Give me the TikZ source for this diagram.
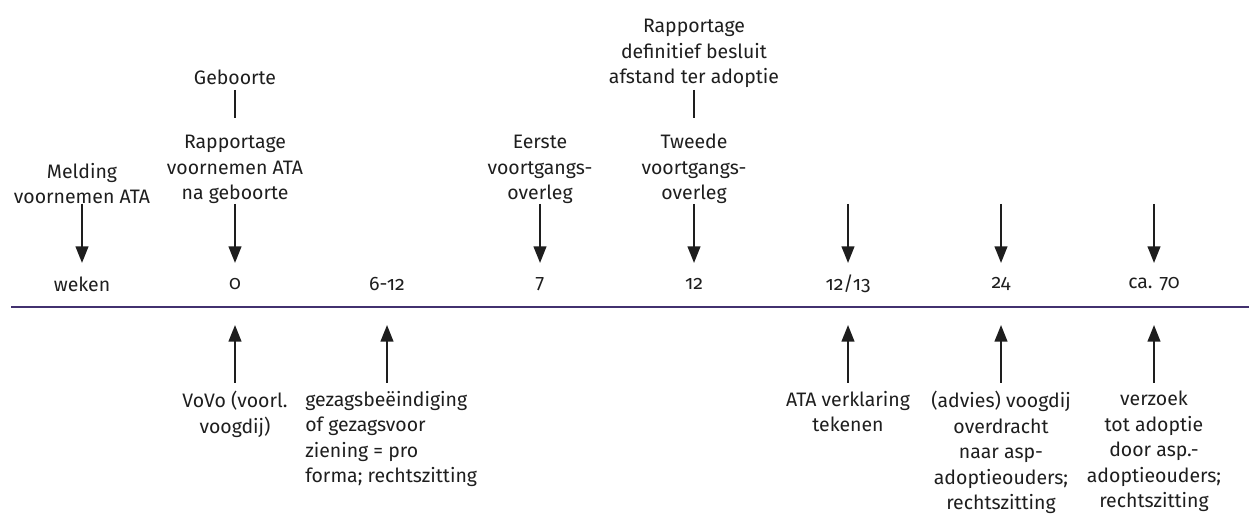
\documentclass[tikz,border=0pt]{standalone}
\usepackage{fontspec}
\setmainfont{Fira Sans}[Numbers=OldStyle]
\usetikzlibrary{arrows.meta}
\definecolor{lijn}{HTML}{42316F}
\definecolor{tekst}{HTML}{1E1E1E}
\tikzset{
  lbl/.style={font=\fontsize{14.6pt}{19.1pt}\selectfont, align=center, inner sep=0pt, text=tekst},
  num/.style={font=\fontsize{14.6pt}{19.1pt}\selectfont, inner sep=0pt, text=tekst},
  pijl/.style={line width=1.6pt, -{Triangle[width=9.5pt,length=12.5pt]}, tekst},
  streep/.style={line width=1.6pt, tekst}
}
\begin{document}
\begin{tikzpicture}[x=0.75pt,y=-0.75pt]
\useasboundingbox (0,0) rectangle (1249,516);
% timeline
\coordinate (L) at (11,307);
\coordinate (R) at (1249,307);
\draw[lijn, line width=2pt] (L) -- (R);
% numbers
\node[num] (n0) at (82,284) {weken};
\node[num] (n1) at (235,284) {0};
\node[num] (n2) at (387,284) {6-12};
\node[num] (n3) at (540,284) {7};
\node[num] (n4) at (694,284) {12};
\node[num] (n5) at (848,284) {12/13};
\node[num] (n6) at (1001,284) {24};
\node[num] (n7) at (1154,284) {ca. 70};
% arrow endpoints top
\foreach \i/\x in {0/82,1/235,3/540,4/694,5/848,6/1001,7/1154}{
  \coordinate (t\i) at (\x,204);
  \coordinate (h\i) at (\x,263);
}
% arrow endpoints bottom
\foreach \i/\x in {1/235,2/387,5/848,6/1001,7/1154}{
  \coordinate (b\i) at (\x,383);
  \coordinate (u\i) at (\x,325);
}
% top labels
\node[lbl, anchor=south] (m0) at (82,204) {Melding\\voornemen ATA};
\node[lbl, anchor=south] (m1) at (235,204) {Rapportage\\voornemen ATA\\na geboorte};
\node[lbl] (geb) at (235,77) {Geboorte};
\node[lbl, anchor=south] (m3) at (540,204) {Eerste\\voortgangs-\\overleg};
\node[lbl, anchor=south] (m4) at (694,204) {Tweede\\voortgangs-\\overleg};
\node[lbl, anchor=south] (rap) at (694,88) {Rapportage\\definitief besluit\\afstand ter adoptie};
\coordinate (g1) at (235,90); \coordinate (g2) at (235,118);
\coordinate (r1) at (694,90); \coordinate (r2) at (694,118);
\draw[streep] (g1) -- (g2);
\draw[streep] (r1) -- (r2);
% top arrows
\foreach \i in {0,1,3,4,5,6,7}{\draw[pijl] (t\i) -- (h\i);}
% bottom arrows
\foreach \i in {1,2,5,6,7}{\draw[pijl] (b\i) -- (u\i);}
% bottom labels
\node[lbl, anchor=north] (o1) at (235,391) {VoVo (voorl.\\voogdij)};
\node[lbl, anchor=north west, align=left] (o2) at (305,391) {gezagsbeëindiging\\of gezagsvoor\\ziening = pro\\forma; rechtszitting};
\node[lbl, anchor=north] (o5) at (848,391) {ATA verklaring\\tekenen};
\node[lbl, anchor=north] (o6) at (1001,391) {(advies) voogdij\\overdracht\\naar asp-\\adoptieouders;\\rechtszitting};
\node[lbl, anchor=north] (o7) at (1154,391) {verzoek\\tot adoptie\\door asp.-\\adoptieouders;\\rechtszitting};
\end{tikzpicture}
\end{document}
